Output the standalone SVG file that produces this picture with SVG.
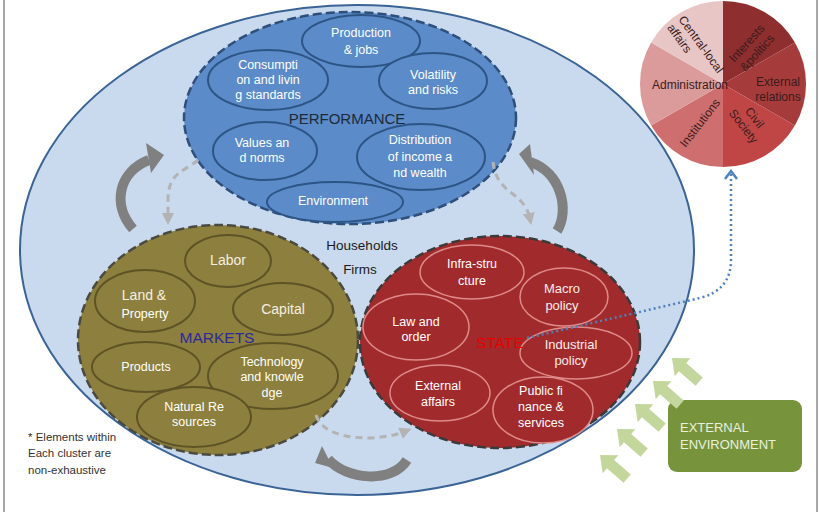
<svg xmlns="http://www.w3.org/2000/svg" xmlns:xlink="http://www.w3.org/1999/xlink" width="820" height="512" viewBox="0 0 820 512">
<defs>
<style>
text{font-family:"Liberation Sans","Noto Sans",sans-serif;}
.w{fill:#ffffff;font-size:12.5px;text-anchor:middle;}
.wm{fill:#f4f0e0;font-size:14px;text-anchor:middle;}
.ws{fill:#fbeaea;font-size:13px;text-anchor:middle;}
.pin{fill:#5b8bc8;stroke:#2c5586;stroke-width:2;}
.min{fill:#8d7f3d;stroke:#5e5326;stroke-width:2;}
.sin{fill:#a12b2c;stroke:#df8a8a;stroke-width:1.5;}
.pt{fill:#3a1c1c;font-size:12px;text-anchor:middle;}
.dash{fill:none;stroke:#b3b3b3;stroke-width:3;stroke-dasharray:7 5;}
.curv{fill:none;stroke:#808080;stroke-width:10;}
.ga{fill:#c3d69b;}
.note{fill:#333333;font-size:11.5px;}
</style>
<marker id="dh" viewBox="0 0 10 10" refX="5" refY="5" markerWidth="4" markerHeight="4" orient="auto" markerUnits="strokeWidth">
<path d="M0,0 L10,5 L0,10 Z" fill="#b3b3b3"/>
</marker>
<polygon id="garrow" points="0,0 -14,-12 -14,-5.5 -36,-5.5 -36,5.5 -14,5.5 -14,12"/>
</defs>

<rect x="0" y="0" width="820" height="512" fill="#ffffff"/>
<line x1="4" y1="0" x2="4" y2="512" stroke="#8a8a8a" stroke-width="1.5"/>
<line x1="817" y1="0" x2="817" y2="512" stroke="#8a8a8a" stroke-width="1.5"/>

<g id="economy">
<ellipse cx="357" cy="250" rx="337" ry="245" fill="#c9daee" stroke="#3a6496" stroke-width="2"/>
<text x="362" y="250" font-size="13.5" fill="#1a1a1a" text-anchor="middle">Households</text>
<text x="360" y="274" font-size="13.5" fill="#1a1a1a" text-anchor="middle">Firms</text>
</g>

<g id="performance">
<ellipse cx="350" cy="118" rx="166" ry="106" fill="#5b8bc8" stroke="#2e4f7a" stroke-width="2.5" stroke-dasharray="9 4"/>
<ellipse class="pin" cx="361" cy="41" rx="59" ry="26"/>
<text class="w" x="361" y="37">Production</text><text class="w" x="361" y="54">&amp; jobs</text>
<ellipse class="pin" cx="268" cy="80" rx="60" ry="30"/>
<text class="w" x="268" y="69">Consumpti</text><text class="w" x="268" y="84">on and livin</text><text class="w" x="268" y="99">g standards</text>
<ellipse class="pin" cx="433" cy="81" rx="54" ry="28"/>
<text class="w" x="433" y="79">Volatility</text><text class="w" x="433" y="94">and risks</text>
<ellipse class="pin" cx="265" cy="151" rx="52" ry="29"/>
<text class="w" x="262" y="147">Values an</text><text class="w" x="262" y="162">d norms</text>
<ellipse class="pin" cx="421" cy="157" rx="64" ry="33"/>
<text class="w" x="420" y="144">Distribution</text><text class="w" x="420" y="161">of income a</text><text class="w" x="420" y="177">nd wealth</text>
<ellipse class="pin" cx="335" cy="202" rx="68" ry="20"/>
<text class="w" x="333" y="205">Environment</text>
<text x="347" y="124" font-size="15" fill="#1c2a3a" text-anchor="middle">PERFORMANCE</text>
</g>

<g id="markets">
<ellipse cx="218" cy="340" rx="140" ry="115" fill="#8d7f3d" stroke="#4a4a40" stroke-width="2.5" stroke-dasharray="9 4"/>
<ellipse class="min" cx="228" cy="261" rx="43" ry="26"/>
<text class="wm" x="228" y="265">Labor</text>
<ellipse class="min" cx="145" cy="301" rx="50" ry="31"/>
<text class="wm" x="144" y="300">Land &amp;</text><text class="w" x="145" y="318">Property</text>
<ellipse class="min" cx="283" cy="309" rx="50" ry="26"/>
<text class="wm" x="283" y="314">Capital</text>
<ellipse class="min" cx="146" cy="367" rx="54" ry="25"/>
<text class="w" x="146" y="371">Products</text>
<ellipse class="min" cx="273" cy="376" rx="65" ry="33"/>
<text class="w" x="272" y="366">Technology</text><text class="w" x="272" y="381">and knowle</text><text class="w" x="272" y="397">dge</text>
<ellipse class="min" cx="194" cy="417" rx="57" ry="30"/>
<text class="w" x="194" y="411">Natural Re</text><text class="w" x="194" y="426">sources</text>
<text x="217" y="343" font-size="15.5" fill="#2b2a9c" text-anchor="middle">MARKETS</text>
</g>

<g id="state">
<ellipse cx="500" cy="342" rx="140" ry="106" fill="#a12b2c" stroke="#3a3a3a" stroke-width="2.5" stroke-dasharray="9 4"/>
<ellipse class="sin" cx="472" cy="272" rx="52" ry="27"/>
<text class="w" x="472" y="268">Infra-stru</text><text class="w" x="472" y="285">cture</text>
<ellipse class="sin" cx="564" cy="297" rx="44" ry="29"/>
<text class="ws" x="562" y="293">Macro</text><text class="ws" x="562" y="310">policy</text>
<ellipse class="sin" cx="416" cy="327" rx="53" ry="33"/>
<text class="w" x="416" y="326">Law and</text><text class="w" x="416" y="341">order</text>
<ellipse class="sin" cx="576" cy="353" rx="56" ry="26"/>
<text class="ws" x="571" y="349">Industrial</text><text class="ws" x="571" y="365">policy</text>
<ellipse class="sin" cx="440" cy="393" rx="50" ry="28"/>
<text class="w" x="438" y="390">External</text><text class="w" x="438" y="406">affairs</text>
<ellipse class="sin" cx="543" cy="410" rx="50" ry="33"/>
<text class="w" x="541" y="395">Public fi</text><text class="w" x="541" y="411">nance &amp;</text><text class="w" x="541" y="427">services</text>
<text x="500" y="348" font-size="15.5" fill="#e80000" text-anchor="middle">STATE</text>
</g>

<g id="political-system">
<path d="M723,84 L723,1 A83,83 0 0 1 794.88,42.5 Z" fill="#8e2e2e"/>
<path d="M723,84 L794.88,42.5 A83,83 0 0 1 794.88,125.5 Z" fill="#a63b3b"/>
<path d="M723,84 L794.88,125.5 A83,83 0 0 1 723,167 Z" fill="#c04646"/>
<path d="M723,84 L723,167 A83,83 0 0 1 651.12,125.5 Z" fill="#cf6e6e"/>
<path d="M723,84 L651.12,125.5 A83,83 0 0 1 651.12,42.5 Z" fill="#db9b9b"/>
<path d="M723,84 L651.12,42.5 A83,83 0 0 1 723,1 Z" fill="#e8c6c6"/>
<g transform="translate(703,47) rotate(54)"><text class="pt" x="-37" y="4" style="text-anchor:start">Central-local</text><text class="pt" x="-37" y="18" style="text-anchor:start">affairs</text></g>
<g transform="translate(752,48) rotate(-48)"><text class="pt" x="0" y="-3">Interests</text><text class="pt" x="0" y="11">&amp;politics</text></g>
<text class="pt" x="778" y="86">External</text><text class="pt" x="778" y="101">relations</text>
<text class="pt" x="690" y="89">Administration</text>
<g transform="translate(700,123) rotate(-52)"><text class="pt" x="0" y="4">Institutions</text></g>
<g transform="translate(749,122) rotate(52)"><text class="pt" x="0" y="-3">Civil</text><text class="pt" x="0" y="11">Society</text></g>
</g>

<g id="external-environment">
<rect x="668" y="400" width="134" height="72" rx="9" fill="#77933c"/>
<text x="680" y="432" font-size="13" fill="#eaf0dc">EXTERNAL</text>
<text x="680" y="449" font-size="13" fill="#eaf0dc">ENVIRONMENT</text>
<use href="#garrow" class="ga" transform="translate(672,358) rotate(-139)"/>
<use href="#garrow" class="ga" transform="translate(653,381) rotate(-139)"/>
<use href="#garrow" class="ga" transform="translate(635,404) rotate(-139)"/>
<use href="#garrow" class="ga" transform="translate(617,429) rotate(-139)"/>
<use href="#garrow" class="ga" transform="translate(600,455) rotate(-139)"/>
</g>

<g id="connectors">
<path class="dash" d="M198,160 C184,172 168,172 168,200 L168,219" marker-end="url(#dh)"/>
<path class="dash" d="M493,162 C497,196 524,190 530,219" marker-end="url(#dh)"/>
<path class="dash" d="M316,415 C324,442 380,442 406,431" marker-end="url(#dh)"/>
<path class="curv" d="M133,229 C112,205 118,172 149,160"/>
<polygon points="146,143 164,155 151,173" fill="#808080"/>
<path class="curv" d="M557,231 C570,210 561,172 530,162"/>
<polygon points="530,144 519,154 534,175" fill="#808080"/>
<path class="curv" d="M407,460 C392,484 346,480 328,459"/>
<polygon points="322,446 315,463 333,468" fill="#808080"/>
<path d="M527,338 L700,298 Q731,290 731,260 L731,174" fill="none" stroke="#4f81bd" stroke-width="2.5" stroke-dasharray="2 3"/>
<polyline points="725,179 731,171 737,179" fill="none" stroke="#4f81bd" stroke-width="2.5"/>
</g>

<g id="footnote">
<text class="note" x="28" y="441">* Elements  within</text>
<text class="note" x="28" y="457">Each cluster  are</text>
<text class="note" x="28" y="474">non-exhaustive</text>
</g>
</svg>
